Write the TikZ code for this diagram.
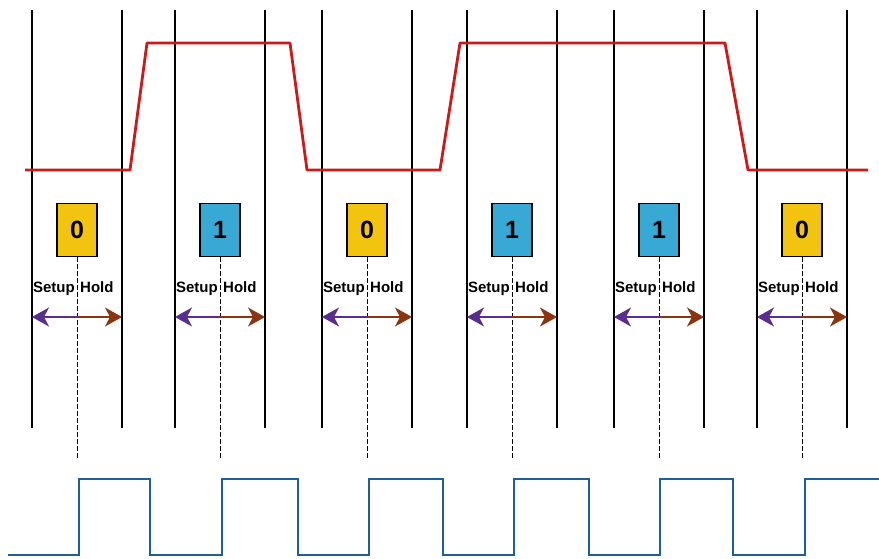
\documentclass[tikz,border=0pt]{standalone}
\usepackage{fontspec}
\setmainfont{Liberation Sans}
\usepackage{xcolor}
\usepackage{tikz}
\usetikzlibrary{arrows.meta,positioning}

\definecolor{bitzero}{HTML}{F2C40F}
\definecolor{bitone}{HTML}{38A9D4}
\definecolor{datared}{HTML}{CC1A1A}
\definecolor{clockblue}{HTML}{1F5F99}
\definecolor{setupc}{HTML}{5A2D91}
\definecolor{holdc}{HTML}{8B3510}

\begin{document}
\begin{tikzpicture}[x=1pt, y=-1pt,
  bitbox/.style={draw, line width=1.2pt, minimum width=40pt, minimum height=53pt, inner sep=0pt, font=\fontsize{25}{25}\selectfont\bfseries},
  gridline/.style={line width=1.1pt, black},
  strobe/.style={line width=0.9pt, dash pattern=on 5pt off 2pt},
  lbl/.style={inner sep=0pt, font=\fontsize{15}{15}\selectfont\bfseries},
  setarrow/.style={-{Stealth[length=17pt, width=19pt, inset=5pt]}, line width=1.3pt, color=setupc},
  holdarrow/.style={-{Stealth[length=17pt, width=19pt, inset=5pt]}, line width=1.3pt, color=holdc},
  data/.style={line width=2.8pt, color=datared, line join=round},
  clock/.style={line width=2.6pt, color=clockblue},
]
\useasboundingbox (0,0) rectangle (879,559);

% sampling windows
\foreach \i/\c/\b/\f in {1/77/0/bitzero, 2/220/1/bitone, 3/367/0/bitzero,
                         4/512/1/bitone, 5/659/1/bitone, 6/802/0/bitzero} {
  \coordinate (lt\i) at (\c-45,10);
  \coordinate (lb\i) at (\c-45,428);
  \coordinate (rt\i) at (\c+45,10);
  \coordinate (rb\i) at (\c+45,428);
  \coordinate (mid\i) at (\c,317);
  \coordinate (sl\i) at (\c-45,317);
  \coordinate (hr\i) at (\c+45,317);
  \coordinate (clk\i) at (\c,460);
  \draw[gridline] (lt\i) -- (lb\i);
  \draw[gridline] (rt\i) -- (rb\i);
  \node[bitbox, fill=\f] (box\i) at (\c,230) {\b};
  \draw[strobe] (box\i) -- (clk\i);
  \node[lbl, anchor=base east] (setup\i) at (\c-2,292) {Setup};
  \node[lbl, anchor=base west] (hold\i) at (\c+3,292) {Hold};
  \draw[setarrow] (mid\i) -- (sl\i);
  \draw[holdarrow] (mid\i) -- (hr\i);
}

% data signal
\draw[data] (25,170) -- (130,170) -- (147,43) -- (290,43) -- (307,170) -- (440,170)
  -- (460,43) -- (725,43) -- (748,170) -- (868,170);

% clock
\draw[clock] (8,555) -- (79,555) -- (79,479) -- (150,479) -- (150,555) -- (222,555)
  -- (222,479) -- (298,479) -- (298,555) -- (369,555) -- (369,479) -- (443,479)
  -- (443,555) -- (514,555) -- (514,479) -- (589,479) -- (589,555) -- (660,555)
  -- (660,479) -- (733,479) -- (733,555) -- (805,555) -- (805,479) -- (879,479);

\end{tikzpicture}
\end{document}
